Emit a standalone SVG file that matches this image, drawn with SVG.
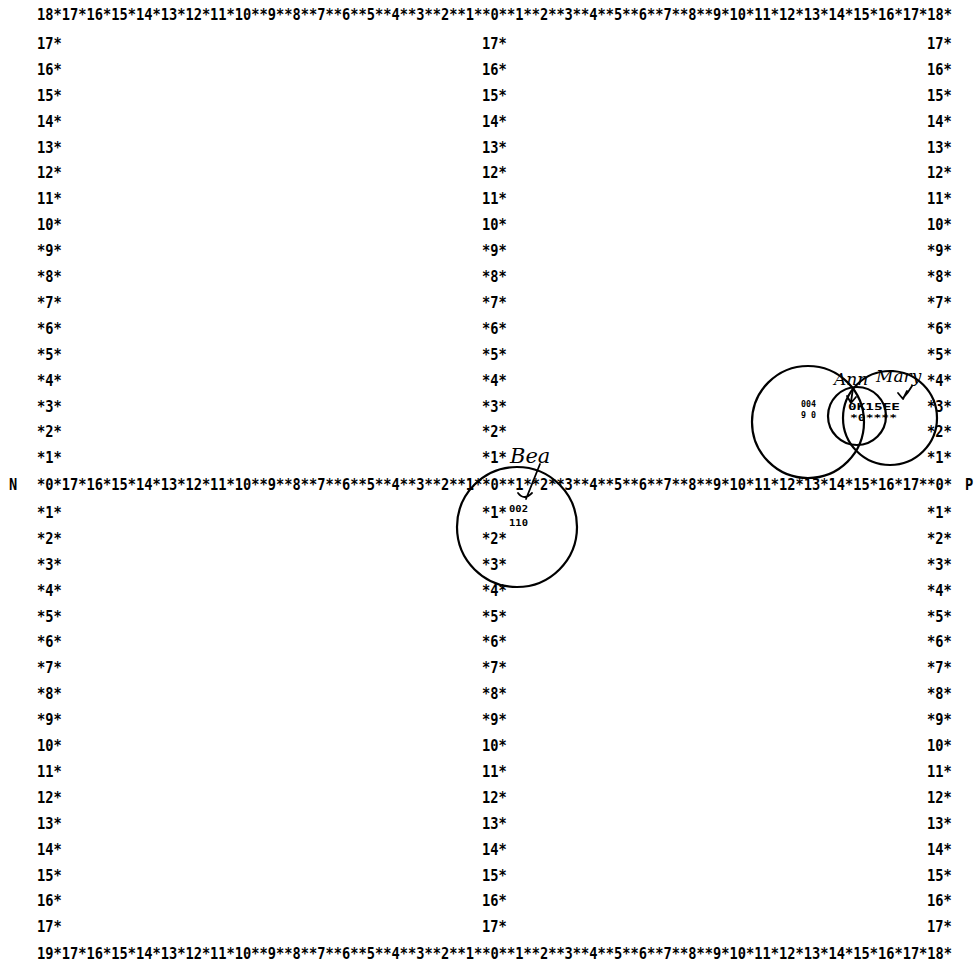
<svg xmlns="http://www.w3.org/2000/svg" width="980" height="967" viewBox="0 0 980 967">
<style>
.g{font-family:"DejaVu Sans Mono",monospace;font-weight:bold;font-size:13.7px;fill:#000}
.s{font-family:"DejaVu Sans Mono",monospace;font-weight:bold;font-size:9px;fill:#000}
.h{font-family:"DejaVu Serif","Liberation Serif",serif;font-style:italic;fill:#000}
.c{fill:none;stroke:#000;stroke-width:2.2}
.a{fill:none;stroke:#000;stroke-width:1.8;stroke-linecap:round;stroke-linejoin:round}
</style>
<rect width="980" height="967" fill="#fff"/>
<g id="grid" transform="scale(1,1.2)">
<text class="g" x="37" y="16.67">18*17*16*15*14*13*12*11*10**9**8**7**6**5**4**3**2**1**0**1**2**3**4**5**6**7**8**9*10*11*12*13*14*15*16*17*18*</text>
<text class="g" x="37" y="408.33">*0*17*16*15*14*13*12*11*10**9**8**7**6**5**4**3**2**1**0**1**2**3**4**5**6**7**8**9*10*11*12*13*14*15*16*17**0*</text>
<text class="g" x="9" y="408.33">N</text>
<text class="g" x="965" y="408.33">P</text>
<text class="g" x="37" y="799.17">19*17*16*15*14*13*12*11*10**9**8**7**6**5**4**3**2**1**0**1**2**3**4**5**6**7**8**9*10*11*12*13*14*15*16*17*18*</text>
<g id="l17"><text class="g" x="37" y="40.83">17*</text><text class="g" x="482" y="40.83">17*</text><text class="g" x="927" y="40.83">17*</text></g>
<g id="l16"><text class="g" x="37" y="62.42">16*</text><text class="g" x="482" y="62.42">16*</text><text class="g" x="927" y="62.42">16*</text></g>
<g id="l15"><text class="g" x="37" y="84">15*</text><text class="g" x="482" y="84">15*</text><text class="g" x="927" y="84">15*</text></g>
<g id="l14"><text class="g" x="37" y="105.58">14*</text><text class="g" x="482" y="105.58">14*</text><text class="g" x="927" y="105.58">14*</text></g>
<g id="l13"><text class="g" x="37" y="127.17">13*</text><text class="g" x="482" y="127.17">13*</text><text class="g" x="927" y="127.17">13*</text></g>
<g id="l12"><text class="g" x="37" y="148.75">12*</text><text class="g" x="482" y="148.75">12*</text><text class="g" x="927" y="148.75">12*</text></g>
<g id="l11"><text class="g" x="37" y="170.33">11*</text><text class="g" x="482" y="170.33">11*</text><text class="g" x="927" y="170.33">11*</text></g>
<g id="l10"><text class="g" x="37" y="191.92">10*</text><text class="g" x="482" y="191.92">10*</text><text class="g" x="927" y="191.92">10*</text></g>
<g id="l9"><text class="g" x="37" y="213.5">*9*</text><text class="g" x="482" y="213.5">*9*</text><text class="g" x="927" y="213.5">*9*</text></g>
<g id="l8"><text class="g" x="37" y="235.08">*8*</text><text class="g" x="482" y="235.08">*8*</text><text class="g" x="927" y="235.08">*8*</text></g>
<g id="l7"><text class="g" x="37" y="256.67">*7*</text><text class="g" x="482" y="256.67">*7*</text><text class="g" x="927" y="256.67">*7*</text></g>
<g id="l6"><text class="g" x="37" y="278.25">*6*</text><text class="g" x="482" y="278.25">*6*</text><text class="g" x="927" y="278.25">*6*</text></g>
<g id="l5"><text class="g" x="37" y="299.83">*5*</text><text class="g" x="482" y="299.83">*5*</text><text class="g" x="927" y="299.83">*5*</text></g>
<g id="l4"><text class="g" x="37" y="321.42">*4*</text><text class="g" x="482" y="321.42">*4*</text><text class="g" x="927" y="321.42">*4*</text></g>
<g id="l3"><text class="g" x="37" y="343">*3*</text><text class="g" x="482" y="343">*3*</text><text class="g" x="927" y="343">*3*</text></g>
<g id="l2"><text class="g" x="37" y="364.58">*2*</text><text class="g" x="482" y="364.58">*2*</text><text class="g" x="927" y="364.58">*2*</text></g>
<g id="l1"><text class="g" x="37" y="386.17">*1*</text><text class="g" x="482" y="386.17">*1*</text><text class="g" x="927" y="386.17">*1*</text></g>
<g id="m1"><text class="g" x="37" y="431.67">*1*</text><text class="g" x="482" y="431.67">*1*</text><text class="g" x="927" y="431.67">*1*</text></g>
<g id="m2"><text class="g" x="37" y="453.25">*2*</text><text class="g" x="482" y="453.25">*2*</text><text class="g" x="927" y="453.25">*2*</text></g>
<g id="m3"><text class="g" x="37" y="474.83">*3*</text><text class="g" x="482" y="474.83">*3*</text><text class="g" x="927" y="474.83">*3*</text></g>
<g id="m4"><text class="g" x="37" y="496.42">*4*</text><text class="g" x="482" y="496.42">*4*</text><text class="g" x="927" y="496.42">*4*</text></g>
<g id="m5"><text class="g" x="37" y="518">*5*</text><text class="g" x="482" y="518">*5*</text><text class="g" x="927" y="518">*5*</text></g>
<g id="m6"><text class="g" x="37" y="539.58">*6*</text><text class="g" x="482" y="539.58">*6*</text><text class="g" x="927" y="539.58">*6*</text></g>
<g id="m7"><text class="g" x="37" y="561.17">*7*</text><text class="g" x="482" y="561.17">*7*</text><text class="g" x="927" y="561.17">*7*</text></g>
<g id="m8"><text class="g" x="37" y="582.75">*8*</text><text class="g" x="482" y="582.75">*8*</text><text class="g" x="927" y="582.75">*8*</text></g>
<g id="m9"><text class="g" x="37" y="604.33">*9*</text><text class="g" x="482" y="604.33">*9*</text><text class="g" x="927" y="604.33">*9*</text></g>
<g id="m10"><text class="g" x="37" y="625.92">10*</text><text class="g" x="482" y="625.92">10*</text><text class="g" x="927" y="625.92">10*</text></g>
<g id="m11"><text class="g" x="37" y="647.5">11*</text><text class="g" x="482" y="647.5">11*</text><text class="g" x="927" y="647.5">11*</text></g>
<g id="m12"><text class="g" x="37" y="669.08">12*</text><text class="g" x="482" y="669.08">12*</text><text class="g" x="927" y="669.08">12*</text></g>
<g id="m13"><text class="g" x="37" y="690.67">13*</text><text class="g" x="482" y="690.67">13*</text><text class="g" x="927" y="690.67">13*</text></g>
<g id="m14"><text class="g" x="37" y="712.25">14*</text><text class="g" x="482" y="712.25">14*</text><text class="g" x="927" y="712.25">14*</text></g>
<g id="m15"><text class="g" x="37" y="733.83">15*</text><text class="g" x="482" y="733.83">15*</text><text class="g" x="927" y="733.83">15*</text></g>
<g id="m16"><text class="g" x="37" y="755.42">16*</text><text class="g" x="482" y="755.42">16*</text><text class="g" x="927" y="755.42">16*</text></g>
<g id="m17"><text class="g" x="37" y="777">17*</text><text class="g" x="482" y="777">17*</text><text class="g" x="927" y="777">17*</text></g>
</g>
<g id="bea">
<circle class="c" cx="517" cy="527" r="60"/>
<text class="s" x="509" y="512" textLength="19" lengthAdjust="spacingAndGlyphs">002</text>
<text class="s" x="509" y="526" font-size="12" textLength="19" lengthAdjust="spacingAndGlyphs">110</text>
<text class="h" x="510" y="463" font-size="21">Bea</text>
</g>
<g id="big">
<circle class="c" cx="808" cy="422" r="56"/>
<text class="s" x="801" y="407" textLength="15" lengthAdjust="spacingAndGlyphs">004</text>
<text class="s" x="801" y="418" textLength="15" lengthAdjust="spacingAndGlyphs">9 0</text>
</g>
<g id="ann">
<circle class="c" cx="857" cy="416" r="29"/>
<text class="s" x="848" y="410" font-size="12" textLength="52" lengthAdjust="spacingAndGlyphs">0K15EE</text>
<text class="s" x="850" y="421" textLength="47" lengthAdjust="spacingAndGlyphs">*0****</text>
<text class="h" x="834" y="385" font-size="17">Ann</text>
</g>
<g id="mary">
<circle class="c" cx="890" cy="418" r="47"/>
<text class="h" x="876" y="382" font-size="17">Mary</text>
</g>
<g id="connectors">
<path class="a" d="M540 464 L526 499 M518 493 Q524 501 532 493"/>
<path class="a" d="M853 388 L851 402 M847 396 L851 403 L856 397"/>
<path class="a" d="M912 386 Q908 393 903 398 M898 393 L903 399 L907 391"/>
</g>
</svg>
